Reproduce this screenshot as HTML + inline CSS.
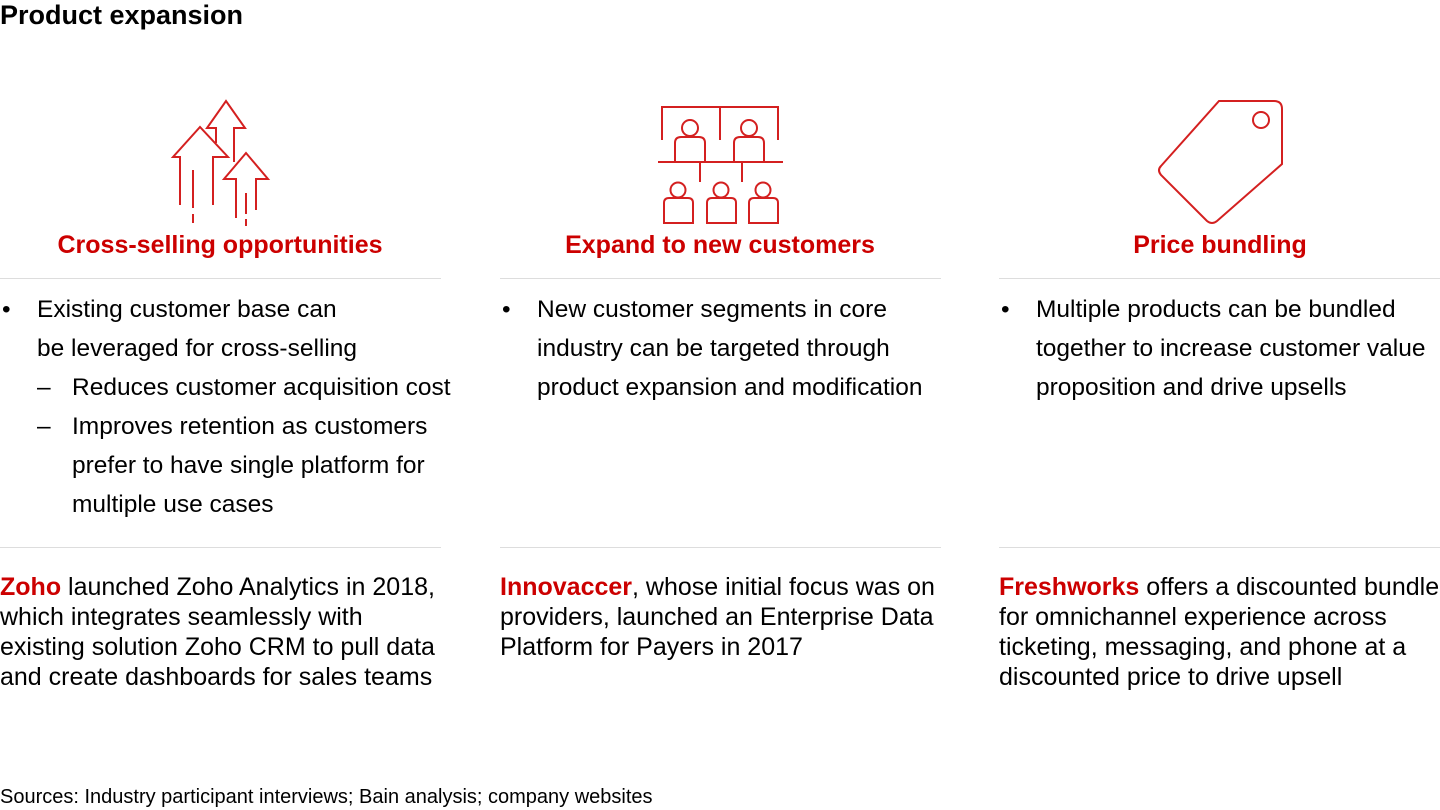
<!DOCTYPE html>
<html><head><style>
body{margin:0;width:1440px;height:810px;background:#fff;font-family:"Liberation Sans",sans-serif;color:#000;position:relative;overflow:hidden}
.a{position:absolute}
h1{position:absolute;left:0;top:0;margin:0;font-size:27px;font-weight:bold;line-height:30px}
.hd{position:absolute;top:230px;width:440px;text-align:center;color:#cc0000;font-weight:bold;font-size:25px;line-height:30px}
.hr{position:absolute;height:1px;background:#ddd;width:441px}
.bl{position:absolute;top:290px;font-size:24.5px;line-height:39px;white-space:nowrap}
.bl div{position:relative}
.ex{position:absolute;top:572px;font-size:25px;line-height:30px;white-space:nowrap}
.ex b{color:#cc0000}
</style></head><body>
<h1>Product expansion</h1>
<svg class="a" style="left:0;top:0" width="1440" height="240" fill="none" stroke="#d42020" stroke-width="2">
<path d="M180 205V157H173L200 127L228 157H213V205"/>
<path d="M193 170V208M193 214V223"/>
<path d="M216 143V128H207L226 101L245 128H234V162"/>
<path d="M236 218V179H224L246 153L268 179H256V210"/>
<path d="M246 193V214M246 219V226"/>
<path d="M662 140V107H778V140M720 107V140M658 162H783M700 162V182M742 162V182"/>
<circle cx="690" cy="128" r="8"/><path d="M675 162V143Q675 137 681 137H699Q705 137 705 143V162"/>
<circle cx="749" cy="128" r="8"/><path d="M734 162V143Q734 137 740 137H758Q764 137 764 143V162"/>
<circle cx="678" cy="190" r="7.5"/><path d="M664 223V203Q664 198 669 198H688Q693 198 693 203V223Z"/>
<circle cx="721" cy="190" r="7.5"/><path d="M707 223V203Q707 198 712 198H731Q736 198 736 203V223Z"/>
<circle cx="763" cy="190" r="7.5"/><path d="M749 223V203Q749 198 754 198H773Q778 198 778 203V223Z"/>
<path d="M1219 101H1274Q1282 101 1282 109V164L1217 221Q1212 225 1207 221L1161 175Q1157 170 1161 166Z"/>
<circle cx="1261" cy="120" r="8"/>
</svg>
<div class="hd" style="left:0">Cross-selling opportunities</div>
<div class="hd" style="left:500px">Expand to new customers</div>
<div class="hd" style="left:1000px">Price bundling</div>
<div class="hr" style="left:0;top:278px"></div><div class="hr" style="left:500px;top:278px"></div><div class="hr" style="left:999px;top:278px"></div>
<div class="hr" style="left:0;top:547px"></div><div class="hr" style="left:500px;top:547px"></div><div class="hr" style="left:999px;top:547px"></div>
<div class="bl" style="left:0">
<div><span class="a" style="left:2px">•</span><span style="margin-left:37px">Existing customer base can</span></div>
<div style="margin-left:37px">be leveraged for cross-selling</div>
<div><span class="a" style="left:37px">–</span><span style="margin-left:72px">Reduces customer acquisition cost</span></div>
<div><span class="a" style="left:37px">–</span><span style="margin-left:72px">Improves retention as customers</span></div>
<div style="margin-left:72px">prefer to have single platform for</div>
<div style="margin-left:72px">multiple use cases</div>
</div>
<div class="bl" style="left:500px">
<div><span class="a" style="left:2px">•</span><span style="margin-left:37px">New customer segments in core</span></div>
<div style="margin-left:37px">industry can be targeted through</div>
<div style="margin-left:37px">product expansion and modification</div>
</div>
<div class="bl" style="left:999px">
<div><span class="a" style="left:2px">•</span><span style="margin-left:37px">Multiple products can be bundled</span></div>
<div style="margin-left:37px">together to increase customer value</div>
<div style="margin-left:37px">proposition and drive upsells</div>
</div>
<div class="ex" style="left:0"><b>Zoho</b> launched Zoho Analytics in 2018,<br>which integrates seamlessly with<br>existing solution Zoho CRM to pull data<br>and create dashboards for sales teams</div>
<div class="ex" style="left:500px"><b>Innovaccer</b>, whose initial focus was on<br>providers, launched an Enterprise Data<br>Platform for Payers in 2017</div>
<div class="ex" style="left:999px"><b>Freshworks</b> offers a discounted bundle<br>for omnichannel experience across<br>ticketing, messaging, and phone at a<br>discounted price to drive upsell</div>
<div class="a" style="left:0;top:785px;font-size:20px;line-height:24px">Sources: Industry participant interviews; Bain analysis; company websites</div>
</body></html>
